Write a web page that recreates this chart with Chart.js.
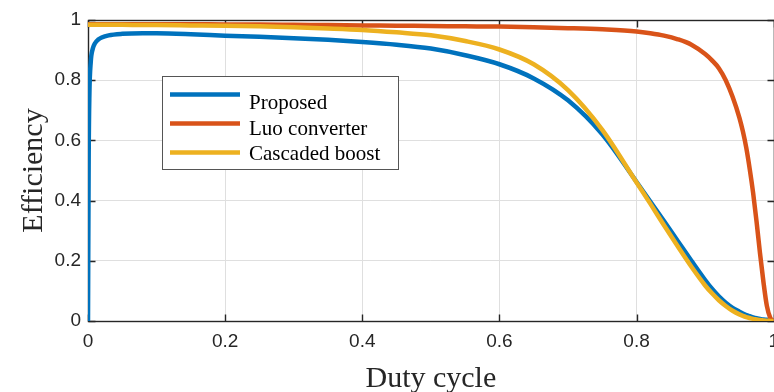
<!DOCTYPE html>
<html>
<head>
<meta charset="utf-8">
<script src="https://cdn.jsdelivr.net/npm/chart.js@4.4.1/dist/chart.umd.min.js"></script>
<style>
  html, body { margin: 0; padding: 0; background: #fff; overflow: hidden; }
  #wrap { position: relative; width: 788px; height: 392px; }
</style>
</head>
<body>
<div id="wrap"><canvas id="chart" width="788" height="392"></canvas></div>
<script>
// values
const dutyCycle = [0, 0.001, 0.002, 0.004, 0.007, 0.01, 0.015, 0.02, 0.03, 0.05, 0.08, 0.1,
  0.15, 0.2, 0.25, 0.3, 0.35, 0.4, 0.45, 0.5, 0.55, 0.6, 0.65, 0.7, 0.75,
  0.8, 0.82, 0.84, 0.86, 0.88, 0.9, 0.91, 0.92, 0.93, 0.94, 0.95, 0.955, 0.96, 0.965, 0.97,
  0.975, 0.98, 0.985, 0.99, 0.995, 1];
const proposed = [0, 0.55, 0.75, 0.86, 0.905, 0.922, 0.935, 0.942, 0.949, 0.954, 0.956, 0.956,
  0.953, 0.948, 0.944, 0.939, 0.934, 0.927, 0.918, 0.905, 0.883, 0.853, 0.806, 0.733, 0.62,
  0.462, 0.397, 0.332, 0.266, 0.2, 0.136, 0.107, 0.082, 0.061, 0.044, 0.031, 0.025, 0.02, 0.016, 0.012,
  0.009, 0.007, 0.005, 0.004, 0.003, 0.002];
const luoConverter = [0.986, 0.986, 0.986, 0.986, 0.986, 0.986, 0.986, 0.986, 0.986, 0.986, 0.986, 0.986,
  0.986, 0.985, 0.985, 0.984, 0.983, 0.982, 0.981, 0.98, 0.979, 0.978, 0.976, 0.973, 0.969,
  0.962, 0.956, 0.948, 0.936, 0.918, 0.887, 0.866, 0.84, 0.8, 0.745, 0.675, 0.63, 0.575, 0.505, 0.425,
  0.33, 0.225, 0.13, 0.05, 0.01, 0];
const cascadedBoost = [0.984, 0.984, 0.984, 0.984, 0.984, 0.984, 0.984, 0.984, 0.984, 0.984, 0.983, 0.983,
  0.982, 0.981, 0.979, 0.976, 0.972, 0.967, 0.959, 0.949, 0.93, 0.902, 0.853, 0.767, 0.635,
  0.46, 0.39, 0.318, 0.248, 0.18, 0.118, 0.092, 0.069, 0.05, 0.034, 0.022, 0.017, 0.013, 0.01, 0.007,
  0.005, 0.003, 0.002, 0.001, 0, 0];
const tickValues = [0, 0.2, 0.4, 0.6, 0.8, 1];
const seriesNames = ['Proposed', 'Luo converter', 'Cascaded boost'];
const seriesColors = ['#0072BD', '#D95319', '#EDB120'];

const toPoints = ys => dutyCycle.map((d, i) => ({ x: d, y: ys[i] }));
const fmt = v => String(Number(v.toFixed(1)));
const axisColor = '#262626';

// matlab style box with inward ticks
const axesBox = {
  id: 'axesBox',
  beforeDatasetsDraw(chart) {
    const { ctx, chartArea: a, scales: { x, y } } = chart;
    const L = Math.round(a.left) + 0.5, R = Math.round(a.right) + 0.5;
    const T = Math.round(a.top) + 0.5, B = Math.round(a.bottom) + 0.5;
    ctx.save();
    ctx.strokeStyle = axisColor;
    ctx.lineWidth = 1.4;
    ctx.strokeRect(L, T, R - L, B - T);
    ctx.beginPath();
    tickValues.forEach(v => {
      const px = Math.round(x.getPixelForValue(v)) + 0.5;
      ctx.moveTo(px, B); ctx.lineTo(px, B - 7);
      ctx.moveTo(px, T); ctx.lineTo(px, T + 7);
      const py = Math.round(y.getPixelForValue(v)) + 0.5;
      ctx.moveTo(L, py); ctx.lineTo(L + 7, py);
      ctx.moveTo(R, py); ctx.lineTo(R - 7, py);
    });
    ctx.stroke();
    ctx.restore();
  }
};

const boxLegend = {
  id: 'boxLegend',
  afterDraw(chart) {
    const ctx = chart.ctx;
    ctx.save();
    ctx.fillStyle = '#fff';
    ctx.fillRect(162.5, 76.5, 236, 93);
    ctx.strokeStyle = '#555';
    ctx.lineWidth = 1;
    ctx.strokeRect(162.5, 76.5, 236, 93);
    chart.data.datasets.forEach((ds, i) => {
      const ly = 94.5 + 29 * i;
      ctx.strokeStyle = ds.borderColor;
      ctx.lineWidth = 4.5;
      ctx.beginPath();
      ctx.moveTo(170, ly); ctx.lineTo(240, ly);
      ctx.stroke();
      ctx.fillStyle = '#000';
      ctx.font = '21px "Liberation Serif", "Times New Roman", serif';
      ctx.textBaseline = 'alphabetic';
      ctx.fillText(ds.label, 249, 109 + 25.5 * i);
    });
    ctx.restore();
  }
};

const datasets = [proposed, luoConverter, cascadedBoost].map((vals, i) => ({
  label: seriesNames[i],
  data: toPoints(vals),
  borderColor: seriesColors[i],
  backgroundColor: seriesColors[i],
  borderWidth: 4.5,
  pointRadius: 0,
  cubicInterpolationMode: 'monotone',
  order: 2 - i
}));

const tickFont = { family: '"Liberation Sans", Arial, sans-serif', size: 19 };
const titleFont = { family: '"Liberation Serif", "Times New Roman", serif', size: 30 };

new Chart(document.getElementById('chart'), {
  type: 'line',
  data: { datasets },
  options: {
    responsive: false,
    animation: false,
    devicePixelRatio: 1,
    layout: { padding: { left: 0, top: 20, right: 0, bottom: 0 } },
    plugins: { legend: { display: false }, tooltip: { enabled: false } },
    scales: {
      x: {
        type: 'linear', min: 0, max: 1,
        afterBuildTicks: s => { s.ticks = tickValues.map(v => ({ value: v })); },
        afterFit: s => { s.height = 71; },
        ticks: { font: tickFont, color: axisColor, padding: 9, maxRotation: 0, callback: v => fmt(v) },
        grid: { color: '#dfdfdf', drawTicks: false },
        border: { display: false },
        title: { display: true, text: 'Duty cycle', font: titleFont, color: axisColor, padding: { top: 0, bottom: -5 } }
      },
      y: {
        type: 'linear', min: 0, max: 1,
        afterBuildTicks: s => { s.ticks = tickValues.map(v => ({ value: v })); },
        afterFit: s => { s.width = 88; },
        ticks: { font: tickFont, color: axisColor, padding: 7, callback: v => fmt(v) },
        grid: { color: '#dfdfdf', drawTicks: false },
        border: { display: false },
        title: { display: true, text: 'Efficiency', font: titleFont, color: axisColor, padding: { top: 16, bottom: 0 } }
      }
    }
  },
  plugins: [axesBox, boxLegend]
});
</script>
</body>
</html>
